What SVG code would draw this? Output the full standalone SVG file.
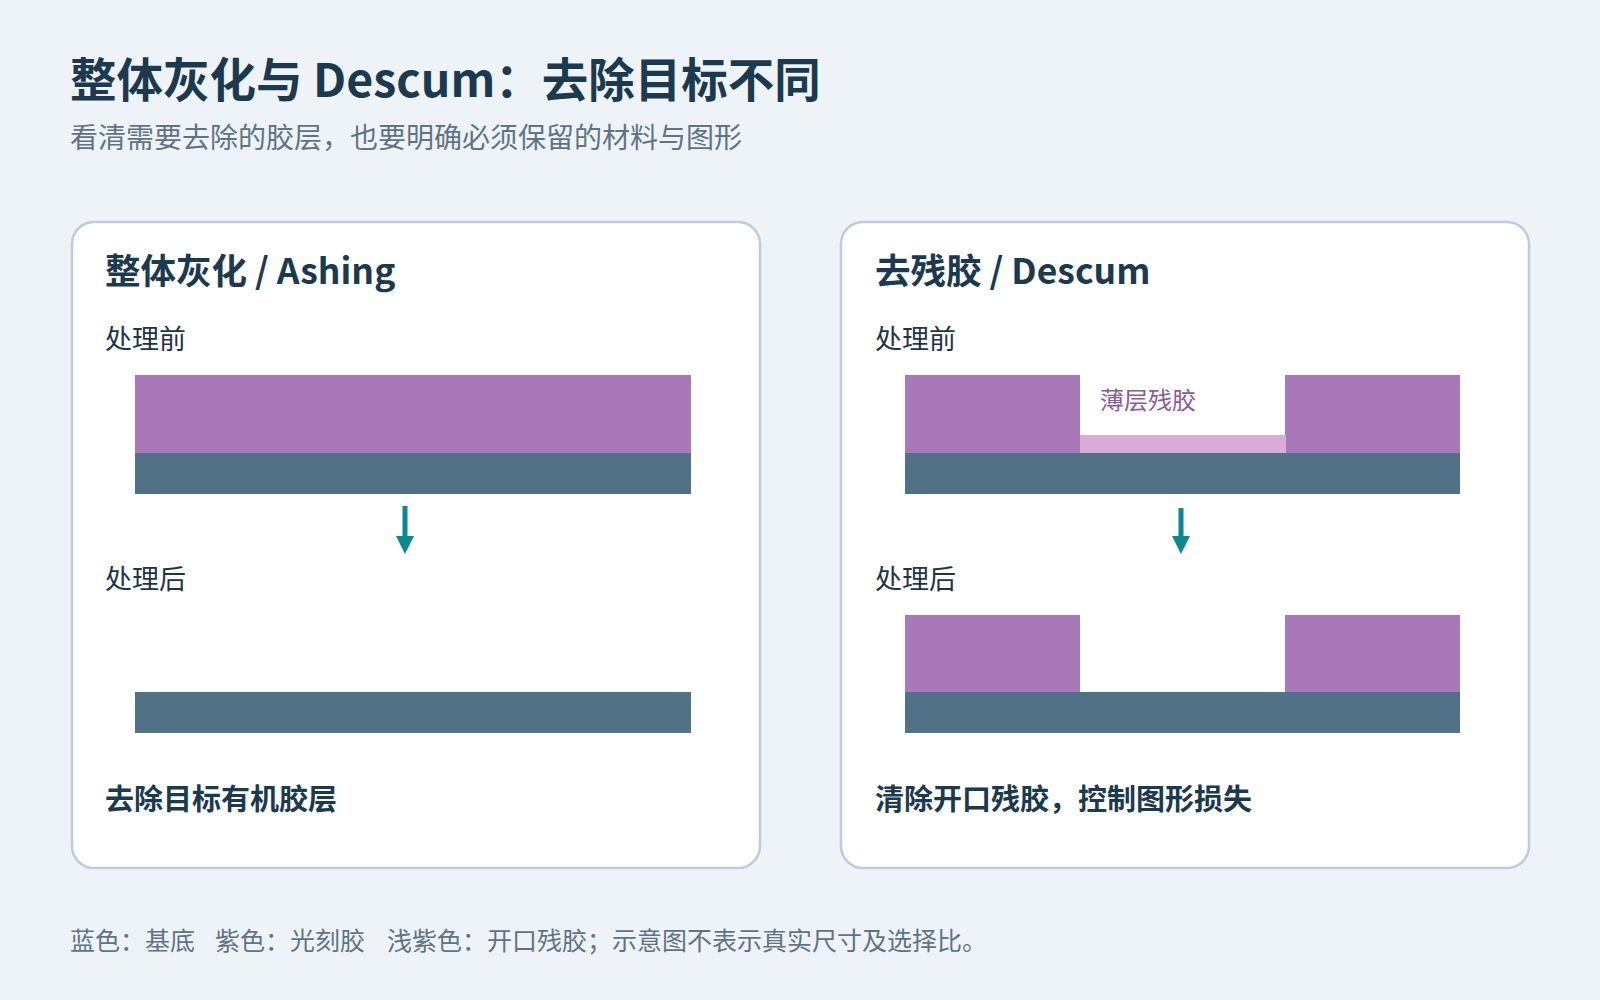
<svg xmlns="http://www.w3.org/2000/svg" width="1600" height="1000" viewBox="0 0 1600 1000">
  <style>
    text { font-family: "Noto Sans CJK SC", "Noto Sans", sans-serif; }
    .title { font-size: 46.5px; font-weight: 700; fill: #1b3a4f; }
    .subtitle { font-size: 28px; fill: #5f7385; }
    .card { fill: #ffffff; stroke: #bccdd8; stroke-width: 2.5; }
    .card-title { font-size: 35.5px; font-weight: 700; fill: #1b3a4f; }
    .stage { font-size: 27px; fill: #1e3446; }
    .note { font-size: 29px; font-weight: 700; fill: #1b3a4f; }
    .resist { fill: #a878b8; }
    .substrate { fill: #507186; }
    .residue { fill: #d8acd6; }
    .residue-label { font-size: 24px; fill: #8b5a9e; }
    .footer { font-size: 25px; fill: #5f7385; }
    .flow { stroke: #0a8a8f; stroke-width: 5; fill: none; }
  </style>
  <defs>
    <marker id="ah" markerWidth="18" markerHeight="18" viewBox="0 0 18 18" refX="2" refY="9" orient="auto" markerUnits="userSpaceOnUse">
      <path d="M0,0 L18,9 L0,18 z" fill="#0a8a8f"/>
    </marker>
  </defs>
  <rect x="0" y="0" width="1600" height="1000" fill="#eef3f8"/>

  <g id="header">
    <text class="title" x="70" y="97">整体灰化与 Descum：去除目标不同</text>
    <text class="subtitle" x="70" y="148">看清需要去除的胶层，也要明确必须保留的材料与图形</text>
  </g>

  <g id="card-ashing">
    <rect class="card" x="72" y="222" width="688" height="646" rx="22"/>
    <text class="card-title" x="105" y="284">整体灰化 / Ashing</text>
    <text class="stage" x="105" y="349">处理前</text>
    <rect class="resist" x="135" y="375" width="556" height="78"/>
    <rect class="substrate" x="135" y="453" width="556" height="41"/>
    <text class="stage" x="105" y="589">处理后</text>
    <rect class="substrate" x="135" y="692" width="556" height="41"/>
    <text class="note" x="105" y="810">去除目标有机胶层</text>
  </g>

  <g id="card-descum">
    <rect class="card" x="841" y="222" width="688" height="646" rx="22"/>
    <text class="card-title" x="875" y="284">去残胶 / Descum</text>
    <text class="stage" x="875" y="349">处理前</text>
    <rect class="resist" x="905" y="375" width="175" height="78"/>
    <rect class="resist" x="1285" y="375" width="175" height="78"/>
    <rect class="residue" x="1080" y="435" width="206" height="18"/>
    <rect class="substrate" x="905" y="453" width="555" height="41"/>
    <text class="residue-label" x="1100" y="409">薄层残胶</text>
    <text class="stage" x="875" y="589">处理后</text>
    <rect class="resist" x="905" y="615" width="175" height="77"/>
    <rect class="resist" x="1285" y="615" width="175" height="77"/>
    <rect class="substrate" x="905" y="692" width="555" height="41"/>
    <text class="note" x="875" y="810">清除开口残胶，控制图形损失</text>
  </g>

  <g id="connectors">
    <line class="flow" x1="405" y1="506" x2="405" y2="538" marker-end="url(#ah)"/>
    <line class="flow" x1="1181" y1="508" x2="1181" y2="538" marker-end="url(#ah)"/>
  </g>

  <g id="legend">
    <text class="footer" y="950"><tspan x="70">蓝色：基底</tspan><tspan x="215">紫色：光刻胶</tspan><tspan x="387">浅紫色：开口残胶；示意图不表示真实尺寸及选择比。</tspan></text>
  </g>
</svg>
